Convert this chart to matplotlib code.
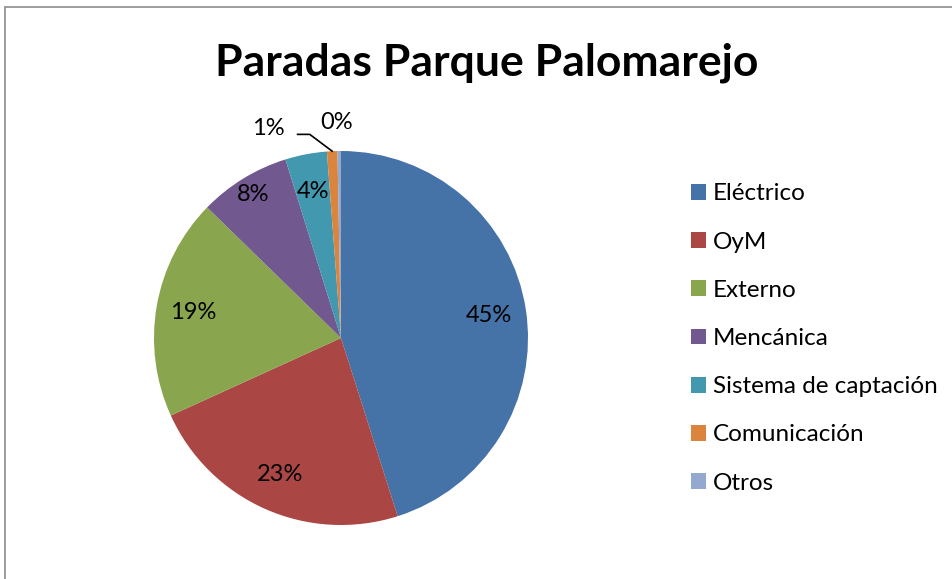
import numpy as np
import matplotlib
matplotlib.use("Agg")
import matplotlib.pyplot as plt
from matplotlib.patches import Rectangle

# data (percent of stops)
categories = ["Eléctrico", "OyM", "Externo", "Mencánica",
              "Sistema de captación", "Comunicación", "Otros"]
shares = [45.1, 23.1, 19.1, 7.9, 3.6, 0.9, 0.3]
colors = ["#4572A7", "#AA4643", "#89A54E", "#71588F",
          "#4198AF", "#DB843D", "#93A9CF"]
title = "Paradas Parque Palomarejo"

plt.rcParams['font.family'] = ['Lato', 'DejaVu Sans']

W, H = 953, 579
fig = plt.figure(figsize=(W / 100, H / 100), dpi=100)

# pie axes: centre (341, 338) px, radius 187 px
cx, cy, r = 341, 338, 187
ax = fig.add_axes([(cx - r) / W, (H - cy - r) / H, 2 * r / W, 2 * r / H])
wedges, texts, autotexts = ax.pie(
    shares, colors=colors, startangle=90, counterclock=False,
    autopct=lambda p: f"{p:.0f}%", pctdistance=0.8,
    wedgeprops=dict(linewidth=0),
    textprops=dict(fontsize=17, color="black"))
ax.set_xlim(-1, 1)
ax.set_ylim(-1, 1)
ax.set_aspect("equal")
ax.axis("off")

# nudge the 8% label a bit outwards like the original
w = wedges[3]
a = np.deg2rad((w.theta1 + w.theta2) / 2)
autotexts[3].set_position((0.9 * np.cos(a), 0.9 * np.sin(a)))

# small slices: labels outside, 1% with leader line
w = wedges[5]
a = np.deg2rad((w.theta1 + w.theta2) / 2)
tip = (np.cos(a), np.sin(a))
elbow = (tip[0] - 0.12, tip[1] + 0.09)
ax.plot([tip[0], elbow[0], elbow[0] - 0.065], [tip[1], elbow[1], elbow[1]],
        color="black", lw=1.2, clip_on=False)
autotexts[5].set_position((elbow[0] - 0.22, elbow[1] + 0.03))

w = wedges[6]
a = np.deg2rad((w.theta1 + w.theta2) / 2)
autotexts[6].set_position((1.15 * np.cos(a) - 0.015, 1.15 * np.sin(a)))

fig.text(487 / W, 1 - 63 / H, title, ha="center", va="center",
         fontsize=32, fontweight="bold")

fig.legend(wedges, categories, loc="center left",
           bbox_to_anchor=(681 / W, 1 - 338.5 / H), frameon=False,
           fontsize=17.5, labelspacing=1.12, handlelength=0.62,
           handleheight=0.62, handletextpad=0.3, borderaxespad=0)

# chart-area border (left and top edges visible)
fig.patches.append(Rectangle((5 / W, -0.5), 2, 0.5 + 1 - 7 / H,
                             transform=fig.transFigure, fill=False,
                             edgecolor="#8c8c8c", lw=1.2))

fig.savefig("out.png", dpi=100)
